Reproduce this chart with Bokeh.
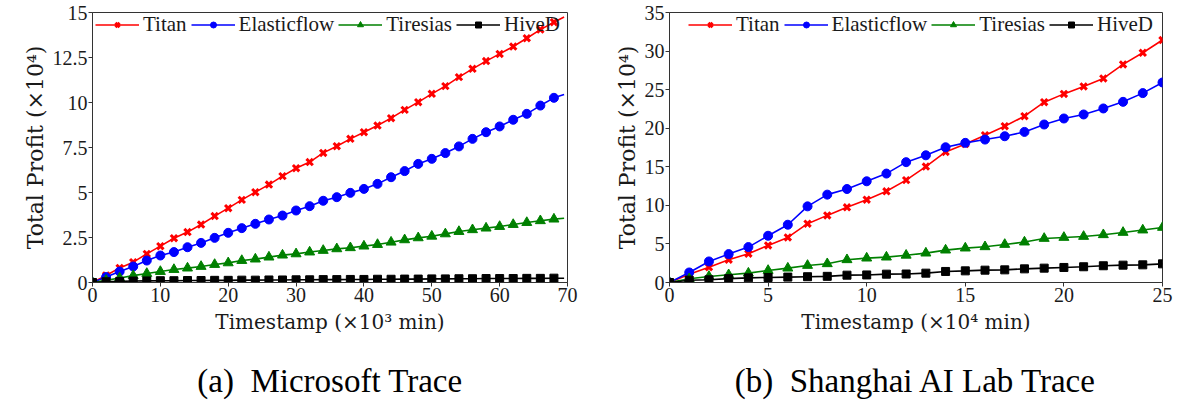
from bokeh.plotting import figure
from bokeh.models import FixedTicker, Legend, LegendItem, Range1d
from bokeh.core.properties import value
from bokeh.layouts import row, column
from bokeh.embed import file_html
from bokeh.resources import INLINE

# ---------------- data: (a) Microsoft Trace ----------------
ms_time = [0, 2, 4, 6, 8, 10, 12, 14, 16, 18, 20, 22, 24, 26, 28, 30, 32, 34,
           36, 38, 40, 42, 44, 46, 48, 50, 52, 54, 56, 58, 60, 62, 64, 66, 68, 69.5]
ms_titan = [0, 0.39, 0.81, 1.13, 1.59, 2.02, 2.46, 2.80, 3.22, 3.69, 4.13, 4.59,
            5.02, 5.44, 5.91, 6.35, 6.69, 7.20, 7.57, 7.98, 8.35, 8.72, 9.13, 9.59,
            10.02, 10.48, 10.91, 11.41, 11.87, 12.30, 12.70, 13.11, 13.57, 14.05, 14.46, 14.75]
ms_elastic = [0, 0.30, 0.61, 0.89, 1.22, 1.50, 1.69, 1.96, 2.20, 2.48, 2.76, 3.02,
              3.26, 3.50, 3.72, 4.00, 4.24, 4.54, 4.74, 4.98, 5.20, 5.48, 5.85, 6.19,
              6.59, 6.87, 7.19, 7.56, 7.98, 8.35, 8.67, 9.04, 9.37, 9.83, 10.26, 10.44]
ms_tiresias = [0, 0.12, 0.25, 0.38, 0.50, 0.61, 0.72, 0.80, 0.89, 1.00, 1.09, 1.22,
               1.30, 1.41, 1.52, 1.59, 1.69, 1.78, 1.87, 1.93, 2.02, 2.11, 2.24, 2.37,
               2.48, 2.57, 2.70, 2.83, 2.93, 3.02, 3.11, 3.22, 3.33, 3.43, 3.52, 3.57]
ms_hived = [0, 0.04, 0.06, 0.08, 0.09, 0.10, 0.10, 0.11, 0.11, 0.12, 0.12, 0.13,
            0.13, 0.14, 0.14, 0.15, 0.15, 0.16, 0.16, 0.17, 0.17, 0.18, 0.18, 0.19,
            0.19, 0.20, 0.20, 0.21, 0.21, 0.22, 0.22, 0.22, 0.23, 0.23, 0.24, 0.24]

# ---------------- data: (b) Shanghai AI Lab Trace ----------------
sh_time = [0, 1, 2, 3, 4, 5, 6, 7, 8, 9, 10, 11, 12, 13, 14, 15, 16, 17, 18,
           19, 20, 21, 22, 23, 24, 25]
sh_titan = [0, 1.08, 1.99, 2.95, 3.73, 4.81, 5.84, 7.62, 8.70, 9.74, 10.74, 11.82,
            13.27, 15.03, 16.92, 17.96, 19.09, 20.26, 21.56, 23.38, 24.45, 25.41,
            26.45, 28.27, 29.78, 31.43]
sh_elastic = [0, 1.30, 2.73, 3.68, 4.59, 6.06, 7.49, 9.87, 11.39, 12.12, 13.12, 14.12,
              15.60, 16.49, 17.53, 18.10, 18.53, 18.96, 19.52, 20.48, 21.26, 21.78,
              22.56, 23.42, 24.55, 25.93]
sh_tiresias = [0, 0.48, 0.78, 1.00, 1.21, 1.56, 1.86, 2.21, 2.43, 2.95, 3.16, 3.29,
               3.53, 3.81, 4.20, 4.46, 4.63, 4.93, 5.24, 5.71, 5.84, 5.97, 6.19, 6.49,
               6.80, 7.14]
sh_hived = [0, 0.30, 0.35, 0.50, 0.60, 0.65, 0.70, 0.75, 0.80, 0.95, 0.98, 1.08,
            1.10, 1.21, 1.43, 1.51, 1.60, 1.64, 1.77, 1.86, 1.95, 2.04, 2.17, 2.25,
            2.29, 2.42]

series_names = ["Titan", "Elasticflow", "Tiresias", "HiveD"]
series_colors = ["#ff0000", "#0000ff", "#008000", "#000000"]
series_markers = ["x", "circle", "triangle", "square"]

ms_xticks = [0, 10, 20, 30, 40, 50, 60, 70]
ms_yticks = [0, 2.5, 5, 7.5, 10, 12.5, 15]
ms_ytick_labels = ["0", "2.5", "5", "7.5", "10", "12.5", "15"]
sh_xticks = [0, 5, 10, 15, 20, 25]
sh_yticks = [0, 5, 10, 15, 20, 25, 30, 35]
sh_ytick_labels = ["0", "5", "10", "15", "20", "25", "30", "35"]

captions = ["(a)\u2002Microsoft Trace", "(b)\u2002Shanghai AI Lab Trace"]

PLOT_H = 350
CAP_H = 54
TOP = 12
FRAME_H = 270


def panel(xs, ys_list, n_mark, xr, yr, xticks, yticks, ylabels, xlabel, ylabel,
          width, bl, br, leg_x):
    p = figure(width=width, height=PLOT_H, x_range=Range1d(*xr), y_range=Range1d(*yr),
               output_backend="svg", toolbar_location=None, title=None,
               min_border_left=bl, min_border_right=br, min_border_top=TOP,
               min_border_bottom=PLOT_H - TOP - FRAME_H)
    p.xgrid.visible = False
    p.ygrid.visible = False
    p.outline_line_color = "#333333"
    p.outline_line_width = 1
    p.background_fill_color = "white"

    for ax in (p.xaxis[0], p.yaxis[0]):
        ax.major_tick_out = 4
        ax.major_tick_in = 0
        ax.minor_tick_out = 0
        ax.minor_tick_in = 0
        ax.axis_line_color = "#333333"
        ax.major_tick_line_color = "#333333"
        ax.major_label_text_font = "Liberation Serif"
        ax.major_label_text_font_size = "20px"
        ax.major_label_text_color = "#1a1a1a"
        ax.major_label_standoff = 1
        ax.axis_label_text_font = "DejaVu Serif"
        ax.axis_label_text_font_style = "normal"
        ax.axis_label_text_color = "#1a1a1a"
    p.xaxis[0].axis_label_text_font_size = "20px"
    p.xaxis[0].axis_label_standoff = 5
    p.yaxis[0].axis_label_text_font_size = "22px"
    p.yaxis[0].axis_label_standoff = 2
    p.xaxis[0].ticker = FixedTicker(ticks=xticks)
    p.yaxis[0].ticker = FixedTicker(ticks=yticks)
    p.xaxis[0].major_label_overrides = {t: str(t) for t in xticks}
    p.yaxis[0].major_label_overrides = {t: l for t, l in zip(yticks, ylabels)}
    p.xaxis[0].axis_label = xlabel
    p.yaxis[0].axis_label = ylabel

    items = []
    for name, color, marker, ys in zip(series_names, series_colors, series_markers, ys_list):
        lr = p.line(xs, ys, line_color=color, line_width=1.6)
        size = {"x": 9, "circle": 9, "triangle": 10, "square": 8}[marker]
        lw = 3 if marker == "x" else 1
        sr = p.scatter(xs[:n_mark], ys[:n_mark], marker=marker, size=size,
                       fill_color=color, line_color=color, line_width=lw)
        items.append(LegendItem(label=name, renderers=[lr, sr]))

    leg = Legend(items=items, orientation="horizontal", location=(leg_x, FRAME_H - 25),
                 border_line_color=None, background_fill_alpha=0, padding=0,
                 spacing=4, label_standoff=4, glyph_width=44, glyph_height=15,
                 label_height=15, margin=0,
                 label_text_font="Liberation Serif", label_text_font_size="21px",
                 label_text_color="#1a1a1a")
    p.add_layout(leg)
    return p


def caption_fig(text, width, bl, br):
    c = figure(width=width, height=CAP_H, x_range=Range1d(0, width),
               y_range=Range1d(0, CAP_H), output_backend="svg", toolbar_location=None,
               title=None, x_axis_location=None, y_axis_location=None,
               min_border=0)
    c.xgrid.visible = False
    c.ygrid.visible = False
    c.outline_line_color = None
    # caption centred under the plot frame
    c.text(x=[bl + (width - bl - br) / 2], y=[CAP_H - 30], text=[text],
           text_align="center", text_baseline="middle",
           text_font=value("Liberation Serif"), text_font_size="33px",
           text_color="black")
    return c


W1, BL1, BR1 = 600, 92, 33
W2, BL2, BR2 = 588, 69, 26

p1 = panel(ms_time, [ms_titan, ms_elastic, ms_tiresias, ms_hived], len(ms_time) - 1,
           (0, 70), (0, 15), ms_xticks, ms_yticks, ms_ytick_labels,
           "Timestamp (×10³ min)", "Total Profit (×10⁴)", W1, BL1, BR1, 3)
p2 = panel(sh_time, [sh_titan, sh_elastic, sh_tiresias, sh_hived], len(sh_time),
           (0, 25), (0, 35), sh_xticks, sh_yticks, sh_ytick_labels,
           "Timestamp (×10⁴ min)", "Total Profit (×10⁴)", W2, BL2, BR2, 19)
c1 = caption_fig(captions[0], W1, BL1, BR1)
c2 = caption_fig(captions[1], W2, BL2, BR2)

layout = column(row(p1, p2), row(c1, c2))
open("out.html", "w").write(file_html(layout, INLINE))
